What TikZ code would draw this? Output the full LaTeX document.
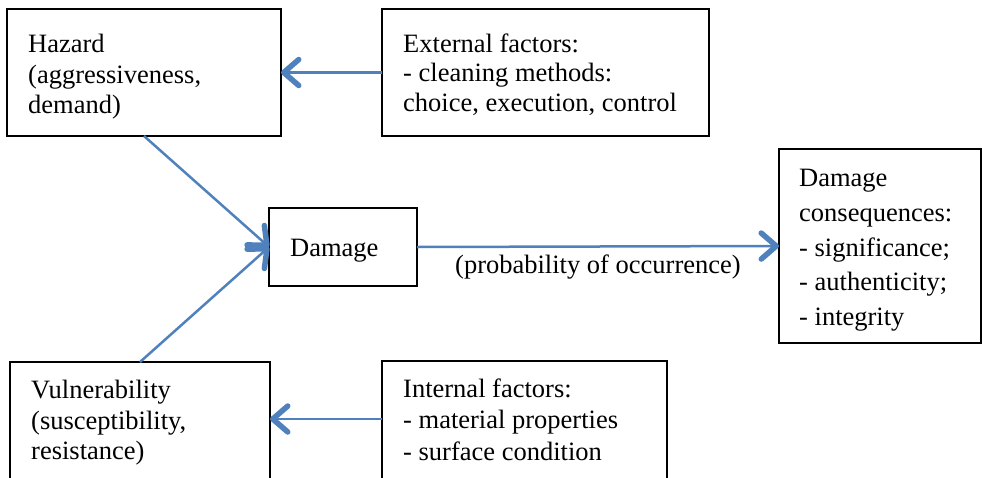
\documentclass[tikz,border=0pt]{standalone}
\usepackage{fontspec}
\setmainfont{Liberation Serif}
\usetikzlibrary{arrows.meta}
\definecolor{linkblue}{RGB}{79,129,189}
\begin{document}
\begin{tikzpicture}[x=1pt,y=-1pt,
  box/.style={draw=black, line width=1.7pt, inner sep=0pt, outer sep=0pt},
  txt/.style={anchor=base west, inner sep=0pt, font=\fontsize{26.5}{30}\selectfont},
  link/.style={draw=linkblue, line width=2.5pt,
    -{Straight Barb[length=15pt,width=26pt,line width=5.5pt,round]}}]
\useasboundingbox (0,0) rectangle (982,477);

% boxes
\node[box, minimum width=274pt, minimum height=127pt] (hazard)   at (144,72.5)  {};
\node[box, minimum width=327pt, minimum height=127pt] (external) at (545.5,72.5) {};
\node[box, minimum width=148pt, minimum height=78pt]  (damage)   at (343,247)   {};
\node[box, minimum width=202pt, minimum height=194pt] (conseq)   at (880,246)   {};
\node[box, minimum width=260pt, minimum height=120pt] (vulner)   at (140,422)   {};
\node[box, minimum width=285pt, minimum height=121pt] (internal) at (524.5,421.5) {};

% box texts
\node[txt] (hz1) at (28,52)  {Hazard};
\node[txt] (hz2) at (28,83)  {(aggressiveness,};
\node[txt] (hz3) at (28,113) {demand)};

\node[txt] (ex1) at (403,52)  {External factors:};
\node[txt] (ex2) at (403,81)  {- cleaning methods:};
\node[txt] (ex3) at (403,111) {choice, execution, control};

\node[txt] (dm1) at (290,256) {Damage};

\node[txt] (cq1) at (799,186) {Damage};
\node[txt] (cq2) at (799,221) {consequences:};
\node[txt] (cq3) at (799,256) {- significance;};
\node[txt] (cq4) at (799,290) {- authenticity;};
\node[txt] (cq5) at (799,325) {- integrity};

\node[txt] (vu1) at (31,398) {Vulnerability};
\node[txt] (vu2) at (31,429) {(susceptibility,};
\node[txt] (vu3) at (31,459) {resistance)};

\node[txt] (in1) at (403,397) {Internal factors:};
\node[txt] (in2) at (403,428) {- material properties};
\node[txt] (in3) at (403,460) {- surface condition};

% connectors
\draw[link] (external.west) -- (hazard.east);
\draw[link] (hazard.south) -- (damage.west);
\draw[link] (vulner.north) -- (damage.west);
\draw[link] (damage.east) -- (conseq.west);
\draw[link] (internal.west |- 0,419) -- (vulner.east |- 0,419);

\node[txt] (prob) at (455,273) {(probability of occurrence)};
\end{tikzpicture}
\end{document}
